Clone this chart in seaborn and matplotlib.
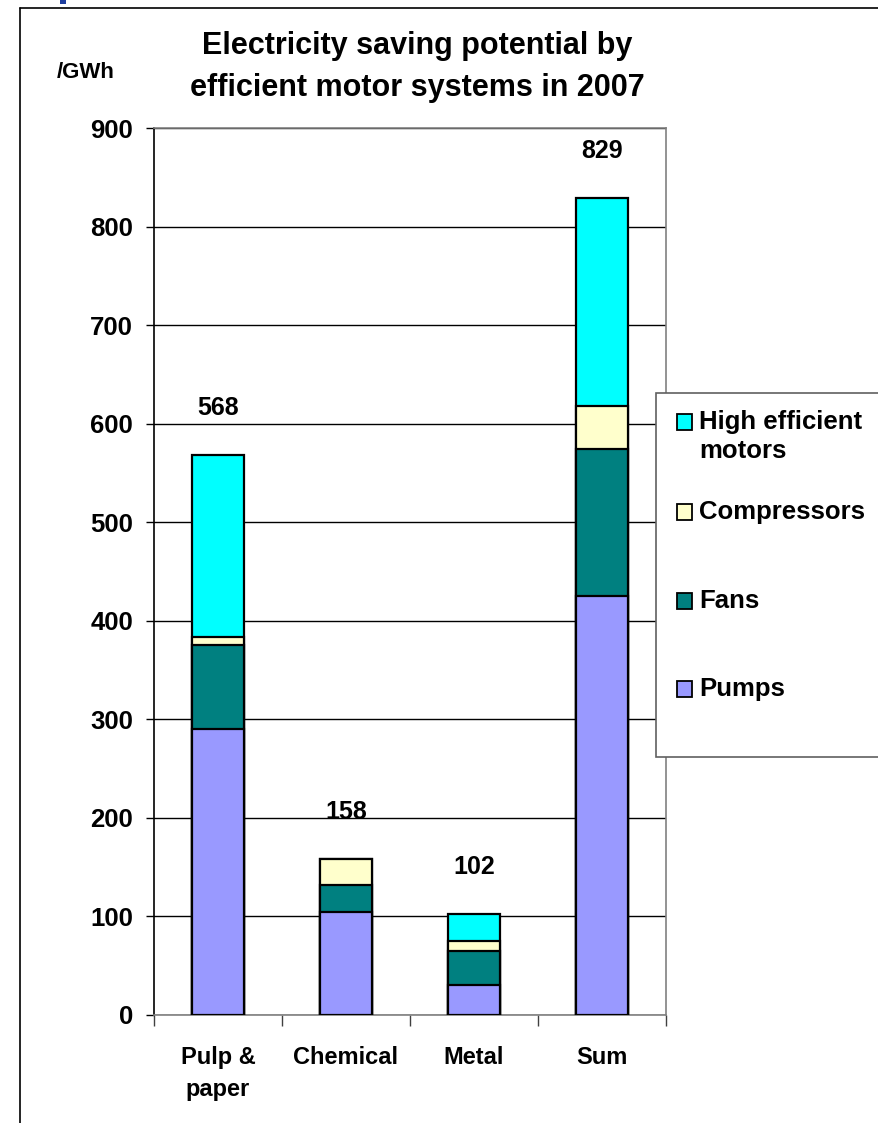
import numpy as np
import pandas as pd
import matplotlib
matplotlib.use('Agg')
import matplotlib.pyplot as plt
from matplotlib.patches import Rectangle
from matplotlib.lines import Line2D
import seaborn as sns

# data
categories = ['Pulp &\npaper', 'Chemical', 'Metal', 'Sum']
pumps = [290, 105, 30, 425]
fans = [85, 27, 35, 149]
compressors = [9, 26, 10, 44]
high_eff = [184, 0, 27, 211]
totals = [568, 158, 102, 829]

series_names = ['Pumps', 'Fans', 'Compressors', 'High efficient\nmotors']
series_colors = ['#9999FF', '#008080', '#FFFFCC', '#00FFFF']

sns.set_theme(style='white')
plt.rcParams['font.family'] = ['Liberation Sans', 'DejaVu Sans']
plt.rcParams['font.weight'] = 'bold'
plt.rcParams['text.color'] = 'black'
plt.rcParams['xtick.color'] = 'black'
plt.rcParams['ytick.color'] = 'black'

df = pd.DataFrame({'cat': categories, 'Pumps': pumps, 'Fans': fans,
                   'Compressors': compressors, 'High efficient\nmotors': high_eff})
cum = df[series_names].cumsum(axis=1)

fig = plt.figure(figsize=(8.79, 11.23), dpi=100)
ax = fig.add_axes([154/879, 1 - 1015/1123, 512/879, 887/1123])

# stacked bars: draw cumulative heights from top layer down
for name, col in reversed(list(zip(series_names, series_colors))):
    sns.barplot(x=df['cat'], y=cum[name], color=col, width=0.41,
                edgecolor='black', linewidth=1.6, saturation=1, ax=ax, zorder=3)

ax.set_ylim(0, 900)
ax.set_xlim(-0.5, 3.5)
ax.set_yticks(np.arange(0, 901, 100))
ax.yaxis.grid(True, color='black', linewidth=1.0)
ax.set_axisbelow(True)
ax.set_xlabel('')
ax.set_ylabel('')
for s in ['top', 'right', 'bottom']:
    ax.spines[s].set_color('#808080')
    ax.spines[s].set_linewidth(1.2)
ax.spines['left'].set_color('black')
ax.spines['left'].set_linewidth(1.2)

ax.tick_params(axis='y', which='major', length=6, width=1, color='black',
               direction='out', left=True, labelsize=18.5, pad=9,
               labelcolor='black')
ax.tick_params(axis='x', which='major', length=0, labelsize=17, pad=22,
               labelcolor='black')
ax.set_xticks(np.arange(-0.5, 3.6, 1.0), minor=True)
ax.tick_params(axis='x', which='minor', length=8, width=1, color='#404040',
               direction='out', bottom=True)
for lab in ax.get_yticklabels():
    lab.set_fontweight('bold')
ax.set_xticks(range(len(categories)))
ax.set_xticklabels(categories, fontweight='bold', fontsize=17, linespacing=1.5)

for i, t in enumerate(totals):
    ax.annotate(str(t), (i, t), xytext=(0, 34), textcoords='offset points',
                ha='center', va='center', fontsize=18, fontweight='bold')

fig.text(417/879, 1 - 67/1123, 'Electricity saving potential by\nefficient motor systems in 2007',
         ha='center', va='center', fontsize=22, fontweight='bold', linespacing=1.5)
fig.text(57/879, 1 - 72/1123, '/GWh', ha='left', va='center', fontsize=16, fontweight='bold')

# legend box drawn by hand (it runs past the right edge)
fig.patches.append(Rectangle((656/879, 1 - 757/1123), 0.3, (757 - 393)/1123,
                             transform=fig.transFigure, facecolor='white',
                             edgecolor='#606060', linewidth=1.2, zorder=5))
leg_y = [422, 512, 601, 689]
for name, col, yy in zip(reversed(series_names), reversed(series_colors), leg_y):
    fig.patches.append(Rectangle((677/879, 1 - (yy + 8)/1123), 15/879, 16/1123,
                                 transform=fig.transFigure, facecolor=col,
                                 edgecolor='black', linewidth=1.3, zorder=6))
    fig.text(699/879, 1 - (yy - 12)/1123, name, ha='left', va='top',
             fontsize=18.5, fontweight='bold', linespacing=1.25, zorder=7)

# outer frame of the slide
fig.lines.append(Line2D([20/879, 20/879], [0, 1 - 8/1123], transform=fig.transFigure,
                        color='black', linewidth=1.2))
fig.lines.append(Line2D([20/879, 1], [1 - 8/1123, 1 - 8/1123], transform=fig.transFigure,
                        color='black', linewidth=1.2))
fig.patches.append(Rectangle((60/879, 1 - 4/1123), 6/879, 4/1123,
                             transform=fig.transFigure, facecolor='#1F3F9F',
                             edgecolor='none'))

fig.savefig('out.png', dpi=100, facecolor='white')
